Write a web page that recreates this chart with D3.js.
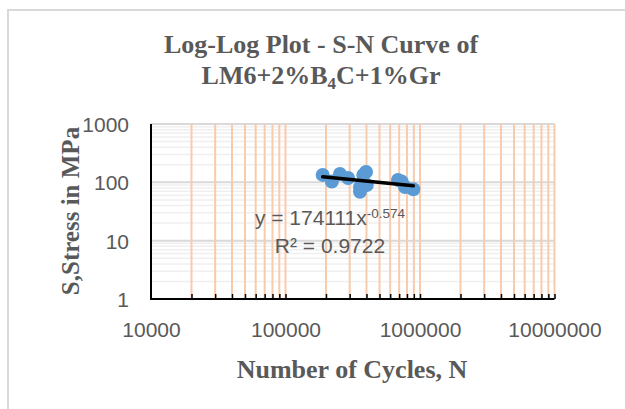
<!DOCTYPE html>
<html>
<head>
<meta charset="utf-8">
<script src="https://cdn.jsdelivr.net/npm/d3@7"></script>
<style>
  html, body { margin: 0; padding: 0; background: #fff; }
  svg { display: block; }
</style>
</head>
<body>
<svg id="chart" width="625" height="409"></svg>
<script>
// ---- data ----
const cycles = [189000, 221000, 254000, 292000, 358000, 379000, 358000, 402000, 397000, 686000, 731000, 774000, 892000];
const stress = [134, 103, 139, 119, 83, 134, 69, 90, 151, 110, 103, 83, 76];
const xTickValues = [10000, 100000, 1000000, 10000000];
const yTickValues = [1, 10, 100, 1000];
const titleLine1 = "Log-Log Plot - S-N Curve of";
const xTitle = "Number of Cycles, N";
const yTitle = "S,Stress in MPa";
const equationText = "y = 174111x";
const equationExp = "-0.574";
const r2Text = "R² = 0.9722";

(function () {
const svg = d3.select("#chart");
const grey = "#595959";

// chart border
svg.append("path").attr("d", "M8,409 V10 H625").attr("fill", "none")
  .attr("stroke", "#d9d9d9").attr("stroke-width", 2);

const pLeft = 151, pRight = 554.5, pTop = 124, pBottom = 299;
const x = d3.scaleLog().domain([1e4, 1e7]).range([pLeft, pRight]);
const y = d3.scaleLog().domain([1, 1000]).range([pBottom, pTop]);

// minor values
const xMinor = [];
[1e4, 1e5, 1e6].forEach(d => { for (let k = 2; k <= 10; k++) xMinor.push(k * d); });
const yMinor = [];
[1, 10, 100].forEach(d => { for (let k = 2; k <= 9; k++) yMinor.push(k * d); });

// horizontal gridlines
svg.append("g").selectAll("line").data(yMinor).join("line")
  .attr("x1", pLeft).attr("x2", pRight)
  .attr("y1", d => y(d)).attr("y2", d => y(d))
  .attr("stroke", "#efefef").attr("stroke-width", 1.5);
svg.append("g").selectAll("line").data(yTickValues.slice(1)).join("line")
  .attr("x1", pLeft).attr("x2", pRight)
  .attr("y1", d => y(d)).attr("y2", d => y(d))
  .attr("stroke", "#d9d9d9").attr("stroke-width", 2);

// vertical gridlines (orange)
svg.append("g").selectAll("line").data(xMinor).join("line")
  .attr("x1", d => x(d)).attr("x2", d => x(d))
  .attr("y1", pTop).attr("y2", pBottom)
  .attr("stroke", "#f8cbad").attr("stroke-width", 2);

// x axis tick marks
const xAxis = d3.axisBottom(x).tickValues(xMinor).tickSize(-5).tickFormat("");
const gx = svg.append("g").attr("transform", `translate(0,${pBottom})`).call(xAxis);
gx.select(".domain").remove();
gx.selectAll(".tick line").attr("stroke", "#000").attr("stroke-width", 1.5);
svg.append("line").attr("x1", pLeft - 1).attr("x2", pRight).attr("y1", pBottom).attr("y2", pBottom)
  .attr("stroke", "#000").attr("stroke-width", 2);
svg.append("line").attr("x1", pLeft).attr("x2", pLeft).attr("y1", pTop).attr("y2", pBottom)
  .attr("stroke", "#000").attr("stroke-width", 2);

// x tick labels
const xl = d3.axisBottom(x).tickValues(xTickValues).tickSize(0).tickPadding(0).tickFormat(d3.format("d"));
const gxl = svg.append("g").attr("transform", `translate(0,${pBottom})`).call(xl);
gxl.select(".domain").remove();
gxl.selectAll("text").attr("font-family", "Liberation Sans, Arial, sans-serif").attr("font-size", 21)
  .attr("fill", grey).attr("dy", null).attr("y", 38);

// y tick labels
const yl = d3.axisLeft(y).tickValues(yTickValues).tickSize(0).tickPadding(0).tickFormat(d3.format("d"));
const gyl = svg.append("g").attr("transform", `translate(${pLeft},0)`).call(yl);
gyl.select(".domain").remove();
gyl.selectAll("text").attr("font-family", "Liberation Sans, Arial, sans-serif").attr("font-size", 21)
  .attr("fill", grey).attr("x", -22).attr("dy", "0.36em");

// data points
const pts = cycles.map((c, i) => [c, stress[i]]);
svg.append("g").selectAll("circle").data(pts).join("circle")
  .attr("cx", d => x(d[0])).attr("cy", d => y(d[1])).attr("r", 7)
  .attr("fill", "#5b9bd5");

// power trendline via least squares in log space
const lx = pts.map(d => Math.log10(d[0])), ly = pts.map(d => Math.log10(d[1]));
const mx = d3.mean(lx), my = d3.mean(ly);
const b = d3.sum(lx.map((v, i) => (v - mx) * (ly[i] - my))) / d3.sum(lx.map(v => (v - mx) ** 2));
const a = my - b * mx;
const [nMin, nMax] = d3.extent(cycles);
const trend = [nMin, nMax].map(n => [n, Math.pow(10, a + b * Math.log10(n))]);
svg.append("path").datum(trend)
  .attr("d", d3.line().x(d => x(d[0])).y(d => y(d[1])))
  .attr("stroke", "#000").attr("stroke-width", 3.5).attr("fill", "none").attr("stroke-linecap", "round");

// equation label
const eq = svg.append("text").attr("x", 330).attr("y", 224.5).attr("text-anchor", "middle")
  .attr("font-family", "Liberation Sans, Arial, sans-serif").attr("font-size", 21).attr("fill", grey);
eq.append("tspan").text(equationText);
eq.append("tspan").attr("font-size", 13.5).attr("dy", -7).text(equationExp);
svg.append("text").attr("x", 330).attr("y", 252.5).attr("text-anchor", "middle")
  .attr("font-family", "Liberation Sans, Arial, sans-serif").attr("font-size", 21).attr("fill", grey)
  .text(r2Text);

// title
const serif = "Liberation Serif, Times New Roman, serif";
svg.append("text").attr("x", 321).attr("y", 53).attr("text-anchor", "middle")
  .attr("font-family", serif).attr("font-weight", "bold").attr("font-size", 26).attr("fill", grey)
  .text(titleLine1);
const t2 = svg.append("text").attr("x", 321).attr("y", 84).attr("text-anchor", "middle")
  .attr("font-family", serif).attr("font-weight", "bold").attr("font-size", 26).attr("fill", grey);
t2.append("tspan").text("LM6+2%B");
t2.append("tspan").attr("font-size", 17).attr("dy", 5).text("4");
t2.append("tspan").attr("dy", -5).text("C+1%Gr");

// axis titles
svg.append("text").attr("x", 352).attr("y", 378).attr("text-anchor", "middle")
  .attr("font-family", serif).attr("font-weight", "bold").attr("font-size", 26).attr("fill", grey)
  .text(xTitle);
svg.append("text").attr("transform", "translate(79,211) rotate(-90)").attr("text-anchor", "middle")
  .attr("font-family", serif).attr("font-weight", "bold").attr("font-size", 25).attr("fill", grey)
  .text(yTitle);
})();
</script>
</body>
</html>
